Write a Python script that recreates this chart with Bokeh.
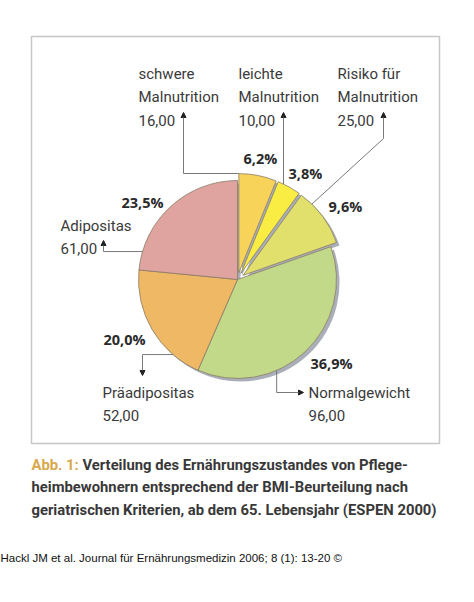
import numpy as np
from bokeh.plotting import figure
from bokeh.models import Range1d, Arrow, NormalHead, ColumnDataSource
from bokeh.core.properties import value
from bokeh.embed import file_html
from bokeh.resources import INLINE

# ---------------- data ----------------
label_lines = [["schwere", "Malnutrition"], ["leichte", "Malnutrition"], ["Risiko für", "Malnutrition"],
               ["Normalgewicht"], ["Präadipositas"], ["Adipositas"]]
counts = [16, 10, 25, 96, 52, 61]
colors = ["#F7D35A", "#F9EC42", "#E2E06C", "#C2D98A", "#EFB865", "#DFA3A0"]
exploded = [1, 1, 1, 0, 0, 0]
caption_head = "Abb. 1:"
caption_lines = ["Verteilung des Ernährungszustandes von Pflege-",
                 "heimbewohnern entsprechend der BMI-Beurteilung nach",
                 "geriatrischen Kriterien, ab dem 65. Lebensjahr (ESPEN 2000)"]
footer = "Hackl JM et al. Journal für Ernährungsmedizin 2006; 8 (1): 13-20 ©"

# ---------------- layout ----------------
W, H = 458, 586
CX, CY, R, EXPL = 237, 279, 99, 7
LABEL_FONT = "Roboto"
TXT = "#3a3a3a"

p = figure(width=W, height=H, x_range=Range1d(0, W), y_range=Range1d(H, 0),
           output_backend="svg", toolbar_location=None, min_border=0)
p.axis.visible = False
p.grid.visible = False
p.outline_line_color = None
p.background_fill_color = "white"
p.border_fill_color = "white"

# frame box
p.quad(left=[31], right=[439], top=[36], bottom=[443], fill_color=None,
       line_color="#C6C6C6", line_width=1.5)

# ---------------- pie ----------------
counts_a = np.array(counts, dtype=float)
total = counts_a.sum()
cum_end = np.cumsum(counts_a) / total * 360.0
cum_start = cum_end - counts_a / total * 360.0
mid = np.radians((cum_start + cum_end) / 2)
ex = np.array(exploded) * EXPL
xs = CX + ex * np.sin(mid)
ys = CY - ex * np.cos(mid)
start_ang = np.radians(90 - cum_end)
end_ang = np.radians(90 - cum_start)

pct_text = [("%.1f" % (100 * c / total)).replace(".", ",") + "%" for c in counts_a]
cnt_text = ["%d,00" % c for c in counts]

src = ColumnDataSource(dict(x=xs, y=ys, sa=start_ang, ea=end_ang, color=colors,
                            sx=xs + 3, sy=ys + 3))
p.wedge(x="sx", y="sy", radius=R, start_angle="sa", end_angle="ea", source=src,
        fill_color="#A9AEB8", line_color=None)
p.wedge(x="x", y="y", radius=R, start_angle="sa", end_angle="ea", source=src,
        fill_color="color", line_color="#8A7C66", line_width=0.8)


def arc_pt(i, cw_deg):
    a = np.radians(cw_deg)
    return xs[i] + R * np.sin(a), ys[i] - R * np.cos(a)

# ---------------- leader lines ----------------
lines_x, lines_y, arr = [], [], dict(x0=[], y0=[], x1=[], y1=[])

def leader(pts):
    lines_x.append([q[0] for q in pts[:-1]])
    lines_y.append([q[1] for q in pts[:-1]])
    arr["x0"].append(pts[-2][0]); arr["y0"].append(pts[-2][1])
    arr["x1"].append(pts[-1][0]); arr["y1"].append(pts[-1][1])

# schwere
leader([(xs[0], 173), (183, 173), (183, 112)])
# leichte
y1 = ys[1] - np.sqrt(R ** 2 - (283 - xs[1]) ** 2)
leader([(283, y1), (283, 112)])
# Risiko
leader([arc_pt(2, 44), (383, 138), (383, 112)])
# Normalgewicht
s3 = arc_pt(3, 156.7)
leader([s3, (s3[0], 392), (303, 392)])
# Präadipositas
s4 = arc_pt(4, 220.7)
leader([s4, (142, s4[1]), (142, 375)])
# Adipositas
s5 = arc_pt(5, 286.4)
leader([s5, (103, s5[1]), (103, 240)])

p.multi_line(xs=lines_x, ys=lines_y, line_color="#7A7A7A", line_width=1)
p.add_layout(Arrow(x_start="x0", y_start="y0", x_end="x1", y_end="y1",
                   source=ColumnDataSource(arr), line_color="#7A7A7A", line_width=1,
                   end=NormalHead(size=5, fill_color="#222222", line_color="#222222")))

# ---------------- labels ----------------
label_pos = [(138, 73), (238, 73), (337, 73), (308, 392), (102, 392), (60, 225)]
LH = 23.3
tx, ty, tt = [], [], []
for i, (lx, ly) in enumerate(label_pos):
    lines = label_lines[i] + [cnt_text[i]]
    for k, t in enumerate(lines):
        tx.append(lx); ty.append(ly + k * LH); tt.append(t)
p.text(x=tx, y=ty, text=tt, text_font=value(LABEL_FONT), text_font_size="15px",
       text_color=TXT, text_baseline="middle", text_align="left")

pct_pos = [(243, 158), (288, 173), (328, 206), (310, 363), (103, 339), (121, 202)]
p.text(x=[q[0] for q in pct_pos], y=[q[1] for q in pct_pos], text=pct_text,
       text_font=value("Open Sans"), text_font_size="14.5px", text_font_style="bold",
       text_color="#2a2a2a", text_baseline="middle", text_align="left")

# ---------------- caption ----------------
p.text(x=[31], y=[464], text=[caption_head], text_font=value(LABEL_FONT),
       text_font_size="14.8px", text_font_style="bold", text_color="#D8A94C",
       text_baseline="middle")
p.text(x=[82, 31, 31], y=[464, 486.5, 509], text=caption_lines, text_font=value(LABEL_FONT),
       text_font_size="14.8px", text_font_style="bold", text_color="#383838",
       text_baseline="middle")
p.text(x=[0], y=[557], text=[footer], text_font=value("Liberation Sans"),
       text_font_size="11.5px", text_color="#111111", text_baseline="middle")

open("out.html", "w").write(file_html(p, INLINE))
